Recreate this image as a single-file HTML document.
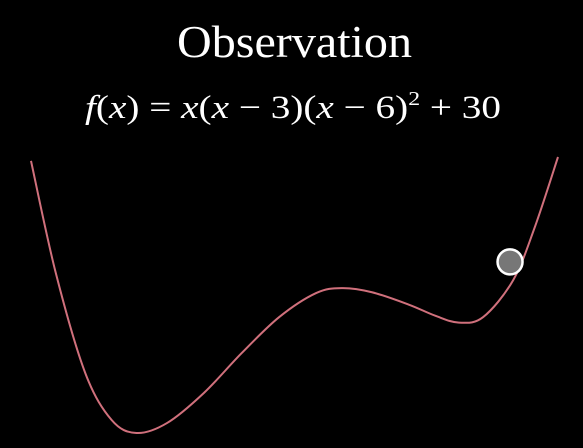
<!DOCTYPE html>
<html><head><meta charset="utf-8"><style>
html,body{margin:0;padding:0;background:#000;}
svg{display:block;}
</style></head><body>
<svg id="chart" width="583" height="448" viewBox="0 0 583 448" xmlns="http://www.w3.org/2000/svg">
<rect width="583" height="448" fill="#000"/>
<text x="177" y="57" font-family="Liberation Serif, serif" font-size="45" fill="#fff" textLength="235" lengthAdjust="spacingAndGlyphs">Observation</text>
<text x="85" y="118" font-family="Liberation Serif, serif" font-size="33" fill="#fff" textLength="416" lengthAdjust="spacingAndGlyphs"><tspan font-style="italic">f</tspan>(<tspan font-style="italic">x</tspan>) = <tspan font-style="italic">x</tspan>(<tspan font-style="italic">x</tspan> − 3)(<tspan font-style="italic">x</tspan> − 6)<tspan font-size="20" dy="-13">2</tspan><tspan dy="13"> + 30</tspan></text>
<g id="plot"></g>
</svg>
<script>
const xValues = [0,0.47,1.03,1.53,2.0,2.58,3.28,4.0,4.71,5.41,5.9,6.47,7.17,7.67,8.12,8.58,9.15,9.56,10];
const yValues = [98.6,58,21.7,4.7,0,3.6,14.5,29,42,50.7,52.5,51,46.5,42.5,40,42,55.4,74.6,100];
const ballX = 9.09;
const ballY = 62;
function sx(v){return 31 + v*52.7;}
function sy(v){return 433 - v*2.76;}
const pts = xValues.map((x,i)=>[sx(x),sy(yValues[i])]);
let d = "M"+pts[0][0]+","+pts[0][1];
for(let i=0;i<pts.length-1;i++){
  const p0=pts[Math.max(0,i-1)],p1=pts[i],p2=pts[i+1],p3=pts[Math.min(pts.length-1,i+2)];
  const c1=[p1[0]+(p2[0]-p0[0])/6,p1[1]+(p2[1]-p0[1])/6];
  const c2=[p2[0]-(p3[0]-p1[0])/6,p2[1]-(p3[1]-p1[1])/6];
  d+=" C"+c1[0]+","+c1[1]+" "+c2[0]+","+c2[1]+" "+p2[0]+","+p2[1];
}
const ns="http://www.w3.org/2000/svg";
const g=document.getElementById("plot");
const path=document.createElementNS(ns,"path");
path.setAttribute("d",d);
path.setAttribute("fill","none");
path.setAttribute("stroke","#d0707c");
path.setAttribute("stroke-width","2");


g.appendChild(path);
const c=document.createElementNS(ns,"circle");
c.setAttribute("cx",sx(ballX));
c.setAttribute("cy",sy(ballY));
c.setAttribute("r","12.5");
c.setAttribute("fill","#777");
c.setAttribute("stroke","#fff");
c.setAttribute("stroke-width","2.5");


g.appendChild(c);
</script>
</body></html>
